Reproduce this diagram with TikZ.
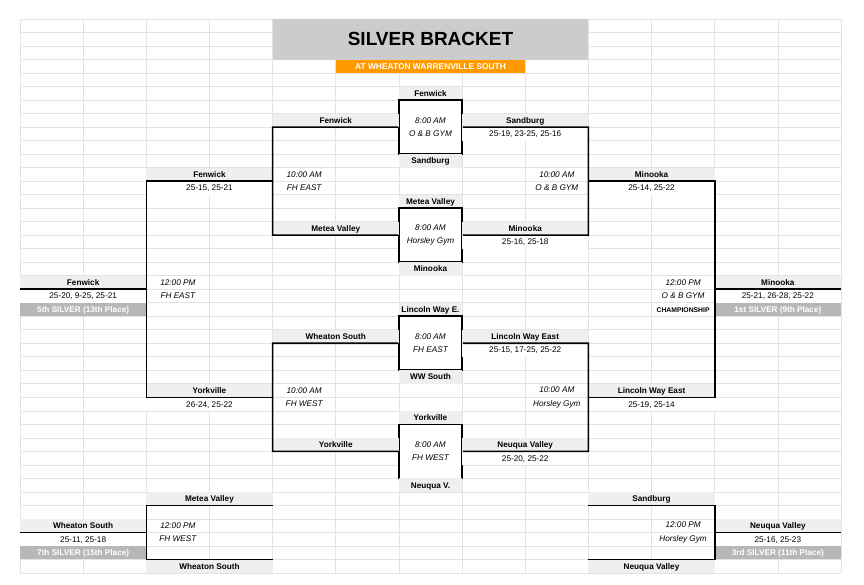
\documentclass[tikz,border=0pt]{standalone}
\usepackage{fontspec}
\setmainfont{Liberation Sans}
\definecolor{sheetgray}{HTML}{E3E3E3}
\definecolor{hdrgray}{HTML}{EFEFEF}
\definecolor{titlegray}{HTML}{CCCCCC}
\definecolor{placegray}{HTML}{B7B7B7}
\definecolor{wworange}{HTML}{FF9900}
\newcommand\colw{63.15pt}
\newcommand\rowh{13.51pt}
\newcommand\cellfont{\fontsize{8.2}{9.8}\selectfont}
\tikzset{
  cell/.style     = {inner sep=0pt, outer sep=0pt, minimum height=\rowh,
                     minimum width=#1*\colw, text height=6.2pt, text depth=0.3pt,
                     font=\cellfont},
  cell/.default   = 2,
  team/.style     = {cell=#1, fill=hdrgray, font=\cellfont\bfseries},
  team/.default   = 2,
  score/.style    = {cell=2, fill=white},
  place/.style    = {cell=2, fill=placegray, text=white, font=\cellfont\bfseries},
  timeslot/.style = {inner sep=0pt, align=center,
                     font=\fontsize{8.2}{13.51pt}\selectfont\itshape},
  gamebox/.style  = {timeslot, draw, line width=1.6pt, fill=white,
                     minimum width=\colw, minimum height=4*\rowh},
  bracket/.style  = {line width=1.6pt, line join=miter},
  sheetline/.style= {draw=sheetgray, line width=0.6pt}
}
\begin{document}
\begin{tikzpicture}[x=\colw, y=-\rowh]
  \useasboundingbox ([shift={(-20pt,19pt)}]0,0) rectangle ([shift={(23pt,-12pt)}]13,41);
  % sheet grid
  \foreach \c in {0,...,13} \draw[sheetline] (\c,0) -- (\c,41);
  \foreach \r in {0,...,41} \draw[sheetline] (0,\r) -- (13,\r);

  % heading
  \node[inner sep=0pt, minimum width=5*\colw, minimum height=3*\rowh, fill=titlegray,
        font=\fontsize{19}{22}\selectfont\bfseries] (title) at (6.5,1.5) {SILVER BRACKET};
  \node[cell=3, fill=wworange, text=white, font=\fontsize{8.4}{9.8}\selectfont\bfseries]
        (venue) at (6.5,3.5) {AT WHEATON WARRENVILLE SOUTH};

  % first round
  \node[team=1] (g1a) at (6.5,5.5) {Fenwick};
  \node[gamebox] (g1) at (6.5,8) {8:00 AM\\O \& B GYM};
  \node[team=1] (g1b) at (6.5,10.5) {Sandburg};
  \node[team=1] (g2a) at (6.5,13.5) {Metea Valley};
  \node[gamebox] (g2) at (6.5,16) {8:00 AM\\Horsley Gym};
  \node[team=1] (g2b) at (6.5,18.5) {Minooka};
  \node[team=1] (g3a) at (6.5,21.5) {Lincoln Way E.};
  \node[gamebox] (g3) at (6.5,24) {8:00 AM\\FH EAST};
  \node[team=1] (g3b) at (6.5,26.5) {WW South};
  \node[team=1] (g4a) at (6.5,29.5) {Yorkville};
  \node[gamebox] (g4) at (6.5,32) {8:00 AM\\FH WEST};
  \node[team=1] (g4b) at (6.5,34.5) {Neuqua V.};

  \node[team] (l1) at (5,7.5) {Fenwick};
  \node[team] (l2) at (5,15.5) {Metea Valley};
  \node[team] (l3) at (5,23.5) {Wheaton South};
  \node[team] (l4) at (5,31.5) {Yorkville};
  \node[team] (w1) at (8,7.5) {Sandburg};
  \node[score] (w1s) at (8,8.5) {25-19, 23-25, 25-16};
  \node[team] (w2) at (8,15.5) {Minooka};
  \node[score] (w2s) at (8,16.5) {25-16, 25-18};
  \node[team] (w3) at (8,23.5) {Lincoln Way East};
  \node[score] (w3s) at (8,24.5) {25-15, 17-25, 25-22};
  \node[team] (w4) at (8,31.5) {Neuqua Valley};
  \node[score] (w4s) at (8,32.5) {25-20, 25-22};

  % second round
  \node[team] (ll1) at (3,11.5) {Fenwick};
  \node[score] (ll1s) at (3,12.5) {25-15, 25-21};
  \node[timeslot] (tl1) at (4.5,12) {10:00 AM\\FH EAST};
  \node[team] (ll2) at (3,27.5) {Yorkville};
  \node[score] (ll2s) at (3,28.5) {26-24, 25-22};
  \node[timeslot] (tl2) at (4.5,28) {10:00 AM\\FH WEST};
  \node[team] (ww1) at (10,11.5) {Minooka};
  \node[score] (ww1s) at (10,12.5) {25-14, 25-22};
  \node[timeslot] (tw1) at (8.5,12) {10:00 AM\\O \& B GYM};
  \node[team] (ww2) at (10,27.5) {Lincoln Way East};
  \node[score] (ww2s) at (10,28.5) {25-19, 25-14};
  \node[timeslot] (tw2) at (8.5,28) {10:00 AM\\Horsley Gym};

  % finals
  \node[team] (lf) at (1,19.5) {Fenwick};
  \node[score] (lfs) at (1,20.5) {25-20, 9-25, 25-21};
  \node[place] (lfp) at (1,21.5) {5th SILVER (13th Place)};
  \node[timeslot] (tlf) at (2.5,20) {12:00 PM\\FH EAST};
  \node[team] (wf) at (12,19.5) {Minooka};
  \node[score] (wfs) at (12,20.5) {25-21, 26-28, 25-22};
  \node[place] (wfp) at (12,21.5) {1st SILVER (9th Place)};
  \node[timeslot] (twf) at (10.5,20) {12:00 PM\\O \& B GYM};
  \node[cell=1, font=\fontsize{6.8}{8}\selectfont\bfseries] (champ) at (10.5,21.5) {CHAMPIONSHIP};

  % consolation
  \node[team] (lc1) at (3,35.5) {Metea Valley};
  \node[team] (lc2) at (3,40.5) {Wheaton South};
  \node[team] (lcf) at (1,37.5) {Wheaton South};
  \node[score] (lcfs) at (1,38.5) {25-11, 25-18};
  \node[place] (lcfp) at (1,39.5) {7th SILVER (15th Place)};
  \node[timeslot] (tlc) at (2.5,38) {12:00 PM\\FH WEST};
  \node[team] (wc1) at (10,35.5) {Sandburg};
  \node[team] (wc2) at (10,40.5) {Neuqua Valley};
  \node[team] (wcf) at (12,37.5) {Neuqua Valley};
  \node[score] (wcfs) at (12,38.5) {25-16, 25-23};
  \node[place] (wcfp) at (12,39.5) {3rd SILVER (11th Place)};
  \node[timeslot] (twc) at (10.5,38) {12:00 PM\\Horsley Gym};

  % bracket lines
  \draw[bracket] (g1.west) -- (l1.south west) -- (l2.south west) -- (g2.west);
  \draw[bracket] (g1.east) -- (w1.south east) -- (w2.south east) -- (g2.east);
  \draw[bracket] (g3.west) -- (l3.south west) -- (l4.south west) -- (g4.west);
  \draw[bracket] (g3.east) -- (w3.south east) -- (w4.south east) -- (g4.east);
  \draw[bracket] (ll1.south east) -- (ll1.south west) -- (ll2.south west) -- (ll2.south east);
  \draw[bracket] (ww1.south west) -- (ww1.south east) -- (ww2.south east) -- (ww2.south west);
  \draw[bracket] (lf.south west) -- (lf.south east);
  \draw[bracket] (wf.south west) -- (wf.south east);
  \draw[bracket] (lc1.south east) -- (lc1.south west) -- (lc2.north west) -- (lc2.north east);
  \draw[bracket] (wc1.south west) -- (wc1.south east) -- (wc2.north east) -- (wc2.north west);
  \draw[bracket] (lcf.south west) -- (lcf.south east);
  \draw[bracket] (wcf.south west) -- (wcf.south east);
\end{tikzpicture}
\end{document}
